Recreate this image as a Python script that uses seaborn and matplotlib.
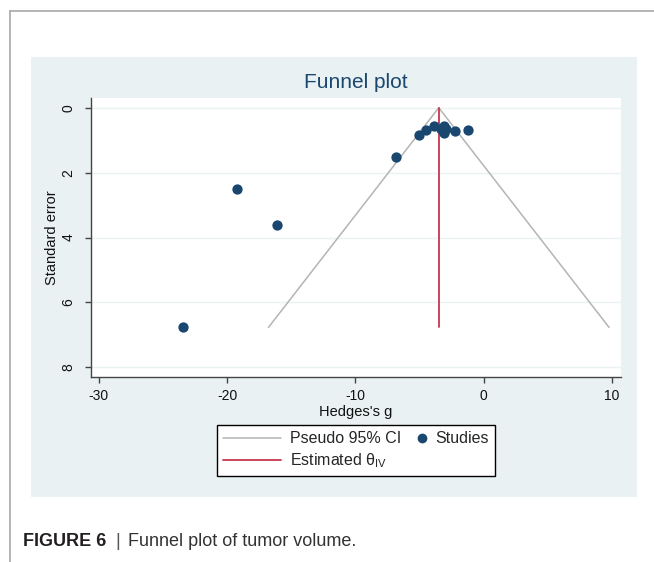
import numpy as np
import pandas as pd
import matplotlib
matplotlib.use("Agg")
import matplotlib.pyplot as plt
from matplotlib.lines import Line2D
from matplotlib.patches import Rectangle
from matplotlib.legend_handler import HandlerBase
import seaborn as sns

# Study effect sizes (Hedges's g) and their standard errors
hedges_g = [-23.4, -19.2, -16.1, -6.8, -5.06, -4.48, -3.9, -3.3, -3.1, -2.9, -3.1, -2.24, -1.22]
std_err = [6.77, 2.49, 3.63, 1.51, 0.83, 0.68, 0.55, 0.66, 0.55, 0.66, 0.78, 0.72, 0.70]
# Pooled inverse-variance estimate
theta_iv = -3.5

x_ticks = [-30, -20, -10, 0, 10]
y_ticks = [0, 2, 4, 6, 8]

navy = "#1a476f"
red = "#c8364f"
ci_gray = "#b4b4b4"
panel_bg = "#e9f1f3"

df = pd.DataFrame({"g": hedges_g, "se": std_err})

sns.set_theme(style="white")
plt.rcParams["font.family"] = ["Liberation Sans", "DejaVu Sans"]

W, H = 654, 562
fig = plt.figure(figsize=(W / 100, H / 100), dpi=100)
fig.patch.set_facecolor("white")


def fx(px):
    return px / W


def fy(py):
    return 1 - py / H


# outer frame lines
fig.add_artist(Line2D([fx(9.5), fx(9.5)], [fy(10.5), 0], color="#a8a8a8", lw=1.2))
fig.add_artist(Line2D([fx(9.5), 1], [fy(10.5), fy(10.5)], color="#a8a8a8", lw=1.2))

# graph region background
fig.add_artist(Rectangle((fx(31), fy(497)), fx(637 - 31), (497 - 57) / H,
                         facecolor=panel_bg, edgecolor="none", zorder=0))

ax = fig.add_axes([fx(91), fy(377), fx(621 - 91), (377 - 98) / H])
ax.set_facecolor("white")

# funnel (pseudo 95% CI) and the pooled estimate line
se_max = max(std_err)
se_line = np.array([0, se_max])
ax.plot(theta_iv - 1.96 * se_line, se_line, color=ci_gray, lw=1.1, zorder=2)
ax.plot(theta_iv + 1.96 * se_line, se_line, color=ci_gray, lw=1.1, zorder=2)
ax.plot([theta_iv, theta_iv], [0, se_max], color=red, lw=1.3, zorder=3)

sns.scatterplot(data=df, x="g", y="se", ax=ax, color=navy, s=55,
                edgecolor=navy, linewidth=0, zorder=4, legend=False)

ax.set_xlim(-30.6, 10.7)
ax.set_ylim(8.3, -0.3)
ax.set_xticks(x_ticks)
ax.set_yticks(y_ticks)
ax.set_xticklabels([str(t) for t in x_ticks], fontsize=10, color="#111111")
ax.set_yticklabels([str(t) for t in y_ticks], fontsize=10, color="#111111",
                   rotation=90, va="center")
ax.tick_params(axis="both", direction="out", length=4.5, width=1, color="#444444",
               bottom=True, left=True)
ax.tick_params(axis="x", pad=4.5)
ax.tick_params(axis="y", pad=6.5)
for t in y_ticks:
    ax.axhline(t, color="#eaf2f3", lw=1, zorder=1)

for side in ["top", "right"]:
    ax.spines[side].set_visible(False)
for side in ["left", "bottom"]:
    ax.spines[side].set_color("#444444")
    ax.spines[side].set_linewidth(1)

ax.set_xlabel("Hedges's g", fontsize=10.5, color="#111111", labelpad=1)
ax.set_ylabel("Standard error", fontsize=10.5, color="#111111")
ax.yaxis.set_label_coords(-0.061, 0.5)
ax.set_title("Funnel plot", fontsize=15, color=navy, pad=7)


class RightMarkerHandler(HandlerBase):
    """Draws a single marker at the right end of the legend handle box."""

    def create_artists(self, legend, orig_handle, xdescent, ydescent,
                       width, height, fontsize, trans):
        mk = Line2D([width - xdescent - 3], [height / 2 - ydescent],
                    marker=orig_handle.get_marker(),
                    markersize=orig_handle.get_markersize(),
                    color=orig_handle.get_color(), linestyle="none")
        mk.set_transform(trans)
        return [mk]


studies_handle = Line2D([], [], marker="o", color=navy, linestyle="none", markersize=6)
handles = [
    Line2D([], [], color=ci_gray, lw=1.1),
    Line2D([], [], color=red, lw=1.3),
    studies_handle,
]
labels = ["Pseudo 95% CI", r"Estimated $\mathregular{\theta_{IV}}$", "Studies"]
leg = fig.legend(handles, labels, ncol=2, loc="upper left",
                 bbox_to_anchor=(fx(217), fy(425)),
                 handler_map={studies_handle: RightMarkerHandler()},
                 frameon=True, fancybox=False, edgecolor="black",
                 facecolor="white", framealpha=1, fontsize=11.5,
                 handlelength=3.6, columnspacing=-2.1, borderpad=0.4,
                 borderaxespad=0, labelspacing=0.3, handletextpad=0.6)
leg.get_frame().set_linewidth(1)

# caption
fig.text(fx(23), fy(546), "FIGURE 6", fontsize=13, fontweight="bold",
         color="#231f20", va="baseline")
fig.text(fx(115), fy(546), "|", fontsize=13, color="#555555", va="baseline")
fig.text(fx(128), fy(546), "Funnel plot of tumor volume.", fontsize=13,
         color="#333333", va="baseline")

fig.savefig("out.png", dpi=100)
